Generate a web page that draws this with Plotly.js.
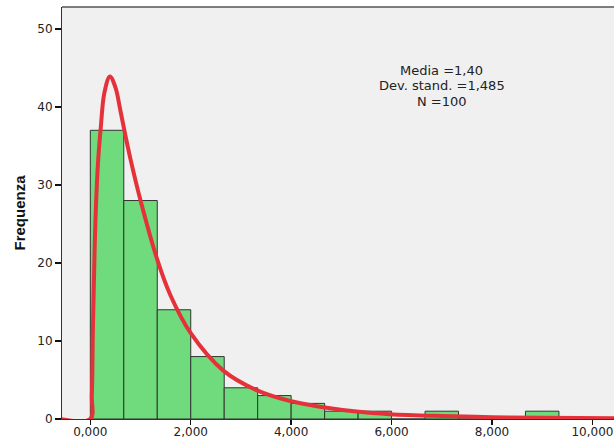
<!DOCTYPE html>
<html>
<head>
<meta charset="utf-8">
<script src="https://cdn.plot.ly/plotly-3.0.1.min.js"></script>
<style>html,body{margin:0;padding:0;background:#fff;}#chart{width:614px;height:439px;}</style>
</head>
<body>
<div id="chart"></div>
<script>
// Histogram data (bins of width 2/3 starting at 0)
const binStart = 0;
const binWidth = 2 / 3;
const counts = [37, 28, 14, 8, 4, 3, 2, 1, 1, 0, 1, 0, 0, 1];

// Fitted curve
const curveX = [-0.6, 0, 0.03, 0.05, 0.08, 0.1, 0.15, 0.21, 0.28, 0.39, 0.5, 0.6, 0.7, 0.8, 1.0, 1.33, 1.6, 2.0, 2.65, 3.31, 3.98, 4.64, 5.3, 5.96, 7.0, 8.0, 9.0, 10.5];
const curveY = [0, 0, 3, 11, 20, 25, 32.5, 37.5, 41.8, 43.9, 42.5, 39.5, 36.3, 33.3, 28, 20.5, 15.8, 11, 6.2, 3.7, 2.3, 1.5, 0.95, 0.62, 0.38, 0.24, 0.15, 0.08];

// Axis ticks
const xTickVals = [0, 2, 4, 6, 8, 10];
const xTickText = ['0,000', '2,000', '4,000', '6,000', '8,000', '10,000'];
const yTickVals = [0, 10, 20, 30, 40, 50];

// Stats text
const statsLines = ['Media =1,40', 'Dev. stand. =1,485', 'N =100'];
const statsY = [0.8447, 0.8083, 0.7718];

const barX = counts.map((c, i) => binStart + i * binWidth + binWidth / 2);

const traces = [
  {
    type: 'bar',
    x: barX,
    y: counts,
    width: counts.map(() => binWidth),
    marker: {color: '#70db7d', line: {color: '#333333', width: 1}},
    hoverinfo: 'skip'
  },
  {
    type: 'scatter',
    mode: 'lines',
    x: curveX,
    y: curveY,
    line: {color: '#e5323a', width: 4, shape: 'spline', smoothing: 1},
    hoverinfo: 'skip'
  }
];

const tickFont = {family: 'DejaVu Sans, sans-serif', size: 12, color: '#222'};

const layout = {
  width: 614,
  height: 439,
  margin: {l: 62, r: 0, t: 7, b: 20, pad: 0},
  paper_bgcolor: '#ffffff',
  plot_bgcolor: '#f0f0f0',
  showlegend: false,
  bargap: 0,
  font: {family: 'DejaVu Sans, sans-serif', color: '#222', size: 12},
  xaxis: {
    range: [-0.564, 10.43],
    tickvals: xTickVals,
    ticktext: xTickText,
    ticks: 'outside',
    ticklen: 5,
    tickwidth: 1.5,
    tickcolor: '#111',
    ticklabelstandoff: -3,
    showgrid: false,
    zeroline: false,
    showline: true,
    linecolor: '#333',
    linewidth: 1,
    tickfont: tickFont
  },
  yaxis: {
    range: [0, 52.8],
    tickvals: yTickVals,
    ticks: 'outside',
    ticklen: 6,
    tickwidth: 1.5,
    tickcolor: '#111',
    showgrid: false,
    zeroline: false,
    showline: true,
    linecolor: '#333',
    linewidth: 1,
    tickfont: tickFont,
    title: {text: 'Frequenza', font: {size: 15, color: '#111', family: 'Liberation Sans, Arial, sans-serif', weight: 'bold'}, standoff: 8}
  },
  shapes: [
    {type: 'line', xref: 'paper', yref: 'paper', x0: 0, x1: 1, y0: 1, y1: 1, line: {color: '#555', width: 1.5}}
  ],
  annotations: statsLines.map((t, i) => ({
    xref: 'x', yref: 'paper', x: 7.0, y: statsY[i], xanchor: 'center', yanchor: 'middle',
    text: t, showarrow: false, borderpad: 0,
    font: {family: 'DejaVu Sans, sans-serif', size: 13, color: '#222'}
  }))
};

Plotly.newPlot('chart', traces, layout, {displayModeBar: false, staticPlot: true});
</script>
</body>
</html>
